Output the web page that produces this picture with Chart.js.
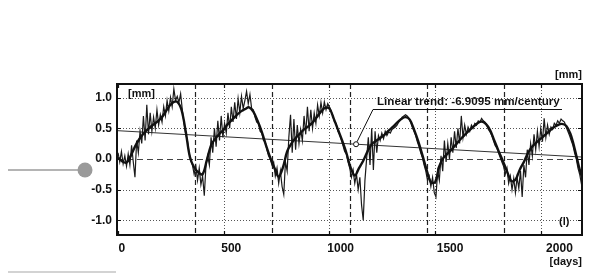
<!DOCTYPE html>
<html>
<head>
<meta charset="utf-8">
<script src="https://cdn.jsdelivr.net/npm/chart.js@4.4.1/dist/chart.umd.min.js"></script>
<style>
  html, body { margin: 0; padding: 0; background: #ffffff; }
  #wrap { width: 590px; height: 274px; position: relative; }
</style>
</head>
<body>
<div id="wrap"><canvas id="c" width="590" height="274"></canvas></div>
<script>
// ---------------- DATA ----------------
// x-axis tick labels (days) and y-axis tick values (mm)
const xTickLabels = [0, 500, 1000, 1500, 2000];
const yTickValues = [-1.0, -0.5, 0.0, 0.5, 1.0];
// year boundaries (dashed vertical lines), days
const yearDays = [365, 730, 1096, 1461, 1826];

// observed series, sampled every 8 days starting at day 0
const noisyStep = 8;
const noisyValues = [
  0.10,-0.05,0.12,-0.08,0.05,-0.12,0.08,-0.10,0.22,-0.05,
  -0.30,0.30,0.10,0.45,0.25,0.70,0.30,0.88,0.40,0.75,
  0.45,0.68,0.50,0.80,0.55,0.72,0.60,0.85,0.70,0.95,
  0.78,1.00,0.85,1.14,0.95,1.02,0.92,1.06,0.80,0.58,
  0.40,0.30,0.10,-0.02,-0.10,-0.25,-0.12,-0.35,-0.15,-0.42,
  -0.28,-0.60,-0.10,0.05,-0.10,0.35,0.10,0.50,0.20,0.62,
  0.30,0.70,0.35,0.58,0.42,0.75,0.50,0.85,0.60,0.92,
  0.65,0.98,0.75,1.02,0.82,0.95,1.10,0.90,1.05,0.82,
  0.80,0.68,0.60,0.58,0.45,0.42,0.30,0.28,0.15,0.05,
  0.00,-0.10,-0.05,-0.28,-0.15,-0.40,-0.20,-0.45,-0.58,-0.05,
  -0.20,0.35,0.72,0.10,0.65,0.15,0.55,0.25,0.48,0.30,
  0.70,0.40,0.85,0.45,0.80,0.50,0.75,0.58,0.88,0.70,
  0.92,0.75,0.93,0.80,0.90,0.85,0.78,0.70,0.60,0.58,
  0.45,0.40,0.32,0.22,0.12,0.08,-0.05,-0.15,-0.30,-0.18,
  -0.40,-0.25,-0.50,-0.30,-0.75,-1.00,-0.35,0.00,0.35,-0.10,
  0.50,-0.18,0.45,0.10,0.38,0.30,0.42,0.33,0.45,0.38,
  0.44,0.42,0.48,0.50,0.52,0.55,0.60,0.63,0.68,0.70,
  0.72,0.70,0.66,0.60,0.52,0.45,0.38,0.28,0.20,0.10,
  0.02,-0.10,-0.20,-0.35,-0.28,-0.45,-0.30,-0.55,-0.62,-0.20,
  -0.35,0.05,-0.20,0.30,-0.05,0.25,0.00,0.35,0.10,0.45,
  0.18,0.50,0.25,0.70,0.35,0.55,0.40,0.52,0.45,0.55,
  0.50,0.58,0.55,0.62,0.60,0.66,0.62,0.60,0.55,0.48,
  0.44,0.38,0.30,0.22,0.18,0.10,0.02,-0.05,-0.12,-0.25,
  -0.15,-0.40,-0.28,-0.50,-0.32,-0.55,-0.30,-0.48,-0.20,-0.62,
  -0.10,-0.30,0.15,-0.10,0.25,0.05,0.40,0.15,0.45,0.20,
  0.50,0.28,0.66,0.35,0.55,0.40,0.52,0.48,0.58,0.55,
  0.62,0.58,0.65,0.62,0.60,0.52,0.45,0.38,0.30,0.22,
  0.10,0.00,-0.15,-0.25,-0.40,-0.35
];

// smoothed (fitted) series, sampled every 20 days starting at day 0
const smoothStep = 20;
const smoothValues = [
  0.02,-0.04,-0.06,0.05,0.20,0.32,0.41,0.48,0.54,0.59,
  0.65,0.74,0.85,0.92,0.93,0.80,0.45,0.03,-0.14,-0.22,
  -0.25,-0.02,0.22,0.33,0.41,0.48,0.57,0.64,0.71,0.77,
  0.81,0.84,0.77,0.62,0.44,0.22,0.02,-0.15,-0.29,-0.14,
  0.12,0.25,0.34,0.41,0.48,0.53,0.59,0.68,0.77,0.83,
  0.82,0.66,0.48,0.30,0.10,-0.14,-0.27,-0.15,-0.03,0.12,
  0.24,0.29,0.34,0.39,0.46,0.52,0.59,0.65,0.68,0.64,
  0.48,0.29,0.06,-0.18,-0.38,-0.38,-0.12,0.02,0.09,0.16,
  0.24,0.32,0.39,0.46,0.52,0.58,0.61,0.57,0.47,0.30,
  0.13,-0.03,-0.20,-0.36,-0.34,-0.18,-0.05,0.10,0.20,0.27,
  0.33,0.39,0.45,0.51,0.55,0.57,0.54,0.41,0.17,-0.12,
  -0.36
];

// linear trend line end points
const trendDays = [-5, 2195];
const trendValues = [0.46, 0.03];

// annotation point on the trend line (day)
const annotationDay = 1126;

// ---------------- CHART ----------------
const noisyData = noisyValues.map((v, i) => ({ x: i * noisyStep, y: v }));
const smoothData = smoothValues.map((v, i) => ({ x: i * smoothStep, y: v }));
const trendData = trendDays.map((d, i) => ({ x: d, y: trendValues[i] }));

const FONT = '"Liberation Sans", Arial, Helvetica, sans-serif';

const decor = {
  id: 'decor',
  beforeDatasetsDraw(chart) {
    const { ctx, chartArea: a, scales } = chart;
    const xs = scales.x, ys = scales.y;
    ctx.save();
    ctx.beginPath();
    ctx.rect(a.left, a.top, a.right - a.left, a.bottom - a.top);
    ctx.clip();
    yTickValues.forEach(v => {
      const y = Math.round(ys.getPixelForValue(v)) + 0.5;
      ctx.beginPath();
      if (v === 0) { ctx.setLineDash([6, 4]); ctx.strokeStyle = '#444'; ctx.lineWidth = 1.2; }
      else { ctx.setLineDash([1, 2]); ctx.strokeStyle = '#555'; ctx.lineWidth = 1; }
      ctx.moveTo(a.left, y); ctx.lineTo(a.right, y); ctx.stroke();
    });
    xTickLabels.forEach(d => {
      if (d === 0) return;
      const x = Math.round(xs.getPixelForValue(d)) + 0.5;
      ctx.beginPath(); ctx.setLineDash([1, 2]); ctx.strokeStyle = '#555'; ctx.lineWidth = 1;
      ctx.moveTo(x, a.top); ctx.lineTo(x, a.bottom); ctx.stroke();
    });
    yearDays.forEach(d => {
      const x = Math.round(xs.getPixelForValue(d)) + 0.5;
      ctx.beginPath(); ctx.setLineDash([5, 3]); ctx.strokeStyle = '#222'; ctx.lineWidth = 1.2;
      ctx.moveTo(x, a.top); ctx.lineTo(x, a.bottom); ctx.stroke();
    });
    ctx.restore();
  },
  afterDatasetsDraw(chart) {
    const { ctx, chartArea: a, scales } = chart;
    const xs = scales.x, ys = scales.y;
    ctx.save();
    ctx.setLineDash([]);
    ctx.strokeStyle = '#111'; ctx.lineWidth = 2;
    ctx.strokeRect(a.left, a.top, a.right - a.left, a.bottom - a.top);
    ctx.lineWidth = 1.2;
    yTickValues.forEach(v => {
      const y = Math.round(ys.getPixelForValue(v)) + 0.5;
      ctx.beginPath();
      ctx.moveTo(a.left, y); ctx.lineTo(a.left + 4, y);
      ctx.moveTo(a.right, y); ctx.lineTo(a.right - 4, y);
      ctx.stroke();
    });
    xTickLabels.forEach(d => {
      const x = Math.round(xs.getPixelForValue(d)) + 0.5;
      ctx.beginPath();
      ctx.moveTo(x, a.bottom); ctx.lineTo(x, a.bottom - 4);
      ctx.moveTo(x, a.top); ctx.lineTo(x, a.top + 4);
      ctx.stroke();
    });
    ctx.fillStyle = '#111';
    ctx.font = 'bold 11px ' + FONT;
    ctx.textBaseline = 'middle';
    ctx.textAlign = 'right';
    ctx.fillText('[mm]', a.right, 75);
    ctx.fillText('[days]', a.right, 262);
    ctx.textAlign = 'left';
    ctx.fillText('[mm]', 128, 94);
    ctx.fillText('(l)', 559, 222);
    let fs = 12;
    ctx.font = 'bold ' + fs + 'px ' + FONT;
    const label = 'Linear trend: -6.9095 mm/century';
    const w = ctx.measureText(label).width;
    fs = fs * 183 / w;
    ctx.font = 'bold ' + fs.toFixed(2) + 'px ' + FONT;
    ctx.fillText(label, 377, 102);
    const px = xs.getPixelForValue(annotationDay);
    const tv = trendValues[0] + (trendValues[1] - trendValues[0]) * (annotationDay - trendDays[0]) / (trendDays[1] - trendDays[0]);
    const py = ys.getPixelForValue(tv);
    ctx.strokeStyle = '#111'; ctx.lineWidth = 1;
    ctx.beginPath();
    ctx.moveTo(562, 109.5); ctx.lineTo(373, 109.5); ctx.lineTo(px + 1, py - 2.5);
    ctx.stroke();
    ctx.beginPath();
    ctx.fillStyle = '#fff';
    ctx.arc(px, py, 2.5, 0, Math.PI * 2);
    ctx.fill(); ctx.stroke();
    ctx.strokeStyle = '#b4b4b4'; ctx.lineWidth = 2;
    ctx.beginPath(); ctx.moveTo(8, 170); ctx.lineTo(78, 170); ctx.stroke();
    ctx.fillStyle = '#9a9a9a';
    ctx.beginPath(); ctx.arc(85, 170, 7.5, 0, Math.PI * 2); ctx.fill();
    ctx.strokeStyle = '#c4c4c4'; ctx.lineWidth = 1.5;
    ctx.beginPath(); ctx.moveTo(8, 272); ctx.lineTo(116, 272); ctx.stroke();
    ctx.restore();
  }
};

new Chart(document.getElementById('c'), {
  type: 'line',
  data: {
    datasets: [
      { label: 'smoothed', data: smoothData, borderColor: '#111', borderWidth: 2.4, tension: 0.35, pointRadius: 0, order: 0 },
      { label: 'observed', data: noisyData, borderColor: '#1a1a1a', borderWidth: 1.2, tension: 0, pointRadius: 0, order: 1 },
      { label: 'trend', data: trendData, borderColor: '#333', borderWidth: 1, tension: 0, pointRadius: 0, order: 2 }
    ]
  },
  options: {
    responsive: false,
    animation: false,
    devicePixelRatio: 1,
    layout: { padding: { top: 84, right: 8, bottom: 0, left: 0 } },
    plugins: { legend: { display: false }, tooltip: { enabled: false } },
    scales: {
      x: { type: 'linear', display: false, min: -5, max: 2195 },
      xl: {
        type: 'linear', position: 'bottom', min: -22, max: 2103,
        afterBuildTicks: s => { s.ticks = xTickLabels.map(v => ({ value: v })); },
        afterFit: s => { s.height = 39; },
        grid: { display: false, drawTicks: false },
        border: { display: false },
        ticks: { color: '#111', font: { family: FONT, size: 12, weight: 'bold' }, padding: 6, maxRotation: 0, autoSkip: false,
          callback: v => String(v) }
      },
      y: {
        type: 'linear', min: -1.24, max: 1.22,
        afterBuildTicks: s => { s.ticks = yTickValues.map(v => ({ value: v })); },
        afterFit: s => { s.width = 117; },
        grid: { display: false, drawTicks: false },
        border: { display: false },
        ticks: { color: '#111', font: { family: FONT, size: 12, weight: 'bold' }, padding: 5,
          callback: v => Number(v).toFixed(1) }
      }
    }
  },
  plugins: [decor]
});
</script>
</body>
</html>
